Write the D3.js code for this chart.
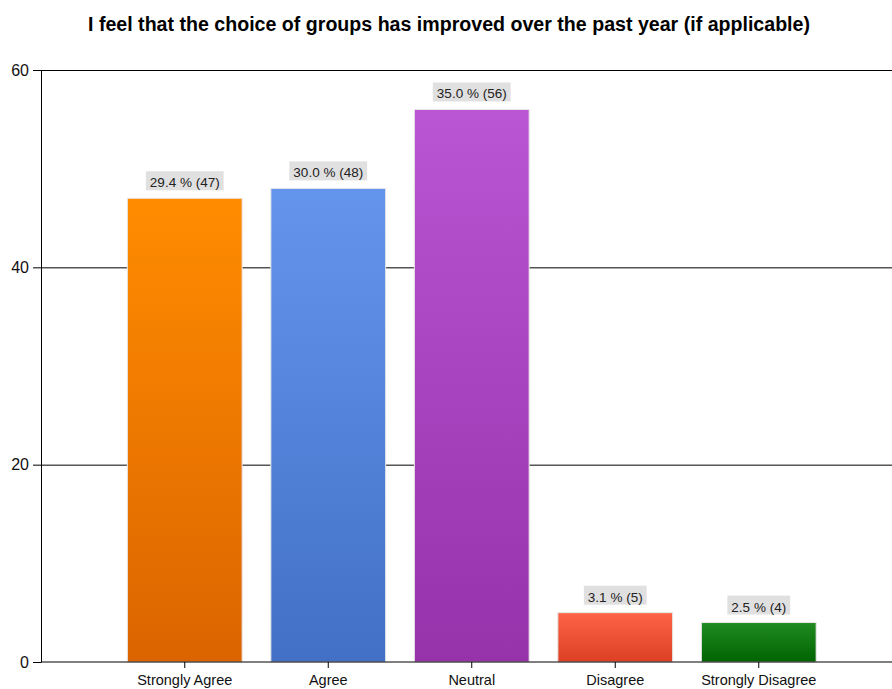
<!DOCTYPE html>
<html>
<head>
<meta charset="utf-8">
<script src="https://cdn.jsdelivr.net/npm/d3@7"></script>
<style>
  body { margin: 0; background: #fff; }
  svg { display: block; font-family: "Liberation Sans", Arial, sans-serif; }
</style>
</head>
<body>
<svg id="chart" width="892" height="689"></svg>
<script>
const categories = ["Strongly Agree", "Agree", "Neutral", "Disagree", "Strongly Disagree"];
const counts = [47, 48, 56, 5, 4];
const percents = ["29.4", "30.0", "35.0", "3.1", "2.5"];
const yTicks = [0, 20, 40, 60];
const topColors = ["#ff8c00", "#6495ed", "#ba55d3", "#ff6347", "#228b22"];
const bottomColors = ["#dc6400", "#4270c6", "#9632aa", "#dc4024", "#006400"];

const svg = d3.select("#chart");
const width = +svg.attr("width");

const x = d3.scaleBand()
  .domain(categories)
  .range([113, 830.5])
  .paddingInner(0.2)
  .paddingOuter(0.1);

const y = d3.scaleLinear()
  .domain([0, 60])
  .range([662, 70]);

// gradients
const defs = svg.append("defs");
categories.forEach((c, i) => {
  const g = defs.append("linearGradient")
    .attr("id", "grad" + i)
    .attr("x1", 0).attr("y1", 0).attr("x2", 0).attr("y2", 1);
  g.append("stop").attr("offset", "0%").attr("stop-color", topColors[i]);
  g.append("stop").attr("offset", "100%").attr("stop-color", bottomColors[i]);
});

// title
svg.append("text")
  .attr("x", 449)
  .attr("y", 31)
  .attr("text-anchor", "middle")
  .attr("font-size", 19.5)
  .attr("font-weight", "bold")
  .attr("textLength", 722)
  .attr("lengthAdjust", "spacingAndGlyphs")
  .text("I feel that the choice of groups has improved over the past year (if applicable)");

// gridlines
svg.append("g")
  .selectAll("line")
  .data(yTicks.filter(d => d > 0))
  .enter().append("line")
  .attr("x1", 41)
  .attr("x2", width)
  .attr("y1", d => y(d) + 0.5)
  .attr("y2", d => y(d) + 0.5)
  .attr("stroke", "#000")
  .attr("stroke-width", 1);

// bars
svg.append("g")
  .selectAll("rect")
  .data(counts)
  .enter().append("rect")
  .attr("x", (d, i) => x(categories[i]))
  .attr("y", d => y(d))
  .attr("width", x.bandwidth())
  .attr("height", d => y(0) - y(d))
  .attr("fill", (d, i) => `url(#grad${i})`)
  .attr("stroke", "#e8e8e8")
  .attr("stroke-width", 1);

// value labels
const labels = svg.append("g")
  .selectAll("g")
  .data(counts)
  .enter().append("g")
  .attr("transform", (d, i) => `translate(${x(categories[i]) + x.bandwidth() / 2},${y(d) - 10})`);

labels.append("text")
  .attr("text-anchor", "middle")
  .attr("font-size", 13.5)
  .attr("fill", "#222")
  .attr("y", -1)
  .text((d, i) => `${percents[i]} % (${d})`)
  .each(function () {
    const b = this.getBBox();
    d3.select(this.parentNode).insert("rect", "text")
      .attr("x", b.x - 4)
      .attr("y", -17)
      .attr("width", b.width + 8)
      .attr("height", 19)
      .attr("fill", "#e0e0e0");
  });

// axes
const xAxis = svg.append("g")
  .attr("transform", `translate(0,${y(0)})`)
  .call(d3.axisBottom(x).tickSize(6).tickSizeOuter(0));
xAxis.select(".domain").remove();
xAxis.append("line")
  .attr("x1", 41).attr("x2", width)
  .attr("stroke", "#000");
xAxis.selectAll("text")
  .attr("font-size", 14.5)
  .attr("font-family", "'Liberation Sans', Arial, sans-serif")
  .attr("fill", "#111")
  .attr("dy", "0.95em");

const yAxis = svg.append("g")
  .attr("transform", "translate(41,0)")
  .call(d3.axisLeft(y).tickValues(yTicks).tickSize(8).tickSizeOuter(0));
yAxis.selectAll("text")
  .attr("font-size", 16)
  .attr("font-family", "'Liberation Sans', Arial, sans-serif")
  .attr("fill", "#111")
  .attr("x", -12);
</script>
</body>
</html>
